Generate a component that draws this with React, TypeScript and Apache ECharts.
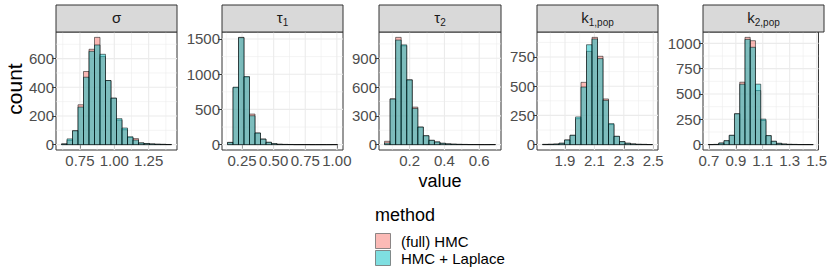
import React, { useEffect, useRef } from 'react';
import * as echarts from 'echarts';

// ---------- data ----------
const panelLabels = ['{m|σ}', '{m|τ}{s|1}', '{m|τ}{s|2}', '{m|k}{s|1,pop}', '{m|k}{s|2,pop}'];
const methods = ['(full) HMC', 'HMC + Laplace'];

const binStarts = [0.616, 0.135, 0.0554, 1.747, 0.695];
const binWidths = [0.04, 0.0435, 0.0319, 0.0374, 0.039];

const sigmaHMC = [5, 30, 97, 278, 510, 665, 748, 614, 447, 324, 171, 104, 50, 42, 12, 8, 5, 3, 2, 1];
const sigmaLap = [5, 40, 97, 262, 470, 651, 695, 630, 447, 324, 181, 116, 55, 32, 12, 8, 5, 3, 2, 1];
const tau1HMC = [33, 810, 1523, 960, 434, 165, 80, 33, 14, 6, 3, 2, 1, 1, 1, 1, 0, 1, 0, 1];
const tau1Lap = [30, 816, 1519, 967, 410, 165, 78, 33, 14, 5, 3, 2, 1, 1, 1, 0, 1, 0, 1, 1];
const tau2HMC = [35, 478, 1118, 1030, 675, 391, 183, 93, 45, 28, 14, 8, 5, 3, 2, 1, 1, 1, 0, 1];
const tau2Lap = [17, 475, 1090, 1040, 675, 377, 183, 93, 45, 28, 14, 8, 5, 3, 2, 1, 1, 0, 1, 1];
const k1HMC = [2, 3, 5, 12, 40, 80, 222, 533, 798, 918, 756, 391, 172, 71, 26, 12, 6, 3, 2, 1];
const k1Lap = [2, 3, 5, 12, 40, 80, 237, 493, 855, 904, 736, 379, 180, 71, 26, 12, 6, 3, 2, 1];
const k2HMC = [1, 2, 16, 39, 92, 305, 616, 1059, 1026, 534, 239, 89, 33, 13, 6, 3, 2, 1, 1, 1];
const k2Lap = [1, 2, 16, 39, 92, 305, 597, 1039, 961, 597, 252, 89, 33, 13, 6, 3, 2, 1, 1, 1];

const hmcData = [sigmaHMC, tau1HMC, tau2HMC, k1HMC, k2HMC];
const lapData = [sigmaLap, tau1Lap, tau2Lap, k1Lap, k2Lap];

const xMajors = [[0.75, 1.0, 1.25], [0.25, 0.5, 0.75, 1.0], [0.2, 0.4, 0.6], [1.9, 2.1, 2.3, 2.5], [0.7, 0.9, 1.1, 1.3, 1.5]];
const xMinors = [[0.625, 0.875, 1.125, 1.375], [0.125, 0.375, 0.625, 0.875], [0.1, 0.3, 0.5, 0.7], [1.8, 2.0, 2.2, 2.4], [0.8, 1.0, 1.2, 1.4]];
const yMajors = [[0, 200, 400, 600], [0, 500, 1000, 1500], [0, 300, 600, 900], [0, 250, 500, 750], [0, 250, 500, 750, 1000]];
const yMinors = [[100, 300, 500, 700], [250, 750, 1250], [150, 450, 750, 1050], [125, 375, 625, 875], [125, 375, 625, 875]];
const xDecimals = [2, 2, 1, 1, 1];

// ---------- styling / layout ----------
const FONT = '"Liberation Sans", Arial, Helvetica, sans-serif';
const lefts = [56, 222, 379, 537, 703];
const widths = [121, 121, 122, 121, 121];
const TOP = 32;
const HEIGHT = 118;
const STRIP_TOP = 5;
const HMC_FILL = 'rgba(248,118,109,0.5)';
const LAP_FILL = 'rgba(0,191,196,0.5)';

export default function App() {
  const ref = useRef<HTMLDivElement>(null);
  useEffect(() => {
    const chart = echarts.init(ref.current!, null, { renderer: 'svg' });
    const grids: any[] = [];
    const xAxes: any[] = [];
    const yAxes: any[] = [];
    const series: any[] = [];
    const graphics: any[] = [];

    for (let i = 0; i < 5; i++) {
      const hmc = hmcData[i];
      const lap = lapData[i];
      const start = binStarts[i];
      const w = binWidths[i];
      const n = hmc.length;
      const span = n * w;
      const xmin = start - 0.05 * span;
      const xmax = start + 1.05 * span;
      const ytop = Math.max(...hmc, ...lap);
      const ymin = -0.05 * ytop;
      const ymax = 1.05 * ytop;

      grids.push({
        left: lefts[i], top: TOP, width: widths[i], height: HEIGHT,
        show: true, borderColor: '#333333', borderWidth: 1, backgroundColor: '#ffffff', z: 0,
      });
      const dec = xDecimals[i];
      xAxes.push({
        type: 'value', gridIndex: i, min: xmin, max: xmax,
        axisLine: { show: false }, splitLine: { show: false },
        axisTick: { show: true, length: 4, lineStyle: { color: '#333333', width: 1 }, customValues: xMajors[i] },
        axisLabel: {
          customValues: xMajors[i], formatter: (v: number) => v.toFixed(dec),
          color: '#4D4D4D', fontSize: 15, margin: 3, fontFamily: FONT, hideOverlap: false,
        },
      });
      yAxes.push({
        type: 'value', gridIndex: i, min: ymin, max: ymax,
        axisLine: { show: false }, splitLine: { show: false },
        axisTick: { show: true, length: 4, lineStyle: { color: '#333333', width: 1 }, customValues: yMajors[i] },
        axisLabel: {
          customValues: yMajors[i], formatter: (v: number) => String(Math.round(v)),
          color: '#4D4D4D', fontSize: 15, margin: 2, fontFamily: FONT,
        },
      });

      const gridData: number[][] = [
        ...xMinors[i].map((v) => [v, 0, 0]),
        ...yMinors[i].map((v) => [v, 1, 0]),
        ...xMajors[i].map((v) => [v, 0, 1]),
        ...yMajors[i].map((v) => [v, 1, 1]),
      ];
      series.push({
        type: 'custom', xAxisIndex: i, yAxisIndex: i, z: 1, silent: true,
        data: gridData, encode: { x: 0, y: 1 },
        renderItem: (_p: any, api: any) => {
          const v = api.value(0);
          const orient = api.value(1);
          const major = api.value(2);
          let a, b;
          if (orient === 0) { a = api.coord([v, ymin]); b = api.coord([v, ymax]); }
          else { a = api.coord([xmin, v]); b = api.coord([xmax, v]); }
          return {
            type: 'line',
            shape: { x1: a[0], y1: a[1], x2: b[0], y2: b[1] },
            style: { stroke: '#EBEBEB', lineWidth: major ? 1.1 : 0.55 },
          };
        },
      });

      const makeBars = (counts: number[], fill: string, name: string) => ({
        type: 'custom', name, xAxisIndex: i, yAxisIndex: i, z: 2, silent: true,
        data: counts.map((c, k) => [start + k * w, start + (k + 1) * w, c]),
        encode: { x: [0, 1], y: 2 },
        renderItem: (_p: any, api: any) => {
          const p0 = api.coord([api.value(0), 0]);
          const p1 = api.coord([api.value(1), api.value(2)]);
          return {
            type: 'rect',
            shape: { x: p0[0], y: p1[1], width: p1[0] - p0[0], height: p0[1] - p1[1] },
            style: { fill, stroke: 'rgba(0,0,0,0.85)', lineWidth: 0.6 },
          };
        },
      });
      series.push(makeBars(hmc, HMC_FILL, methods[0]));
      series.push(makeBars(lap, LAP_FILL, methods[1]));

      graphics.push({
        type: 'rect', z: 5,
        shape: { x: lefts[i], y: STRIP_TOP, width: widths[i], height: TOP - STRIP_TOP },
        style: { fill: '#D9D9D9', stroke: '#333333', lineWidth: 1 },
      });
      graphics.push({
        type: 'text', z: 6,
        x: lefts[i] + widths[i] / 2, y: 18.5,
        style: {
          text: panelLabels[i], align: 'center', verticalAlign: 'middle', fontFamily: FONT,
          rich: {
            m: { fontSize: 15, fill: '#1A1A1A', fontFamily: FONT, verticalAlign: 'bottom', padding: [0, 0, 3, 0] },
            s: { fontSize: 10, fill: '#1A1A1A', fontFamily: FONT, verticalAlign: 'bottom' },
          },
        },
      });
    }

    // axis titles
    graphics.push({
      type: 'text', x: 14, y: 89, rotation: Math.PI / 2,
      style: { text: 'count', fontSize: 21, fontFamily: FONT, fill: '#000', align: 'center', verticalAlign: 'middle' },
    });
    graphics.push({
      type: 'text', x: 440, y: 181,
      style: { text: 'value', fontSize: 18, fontFamily: FONT, fill: '#000', align: 'center', verticalAlign: 'middle' },
    });
    // legend
    graphics.push({
      type: 'text', x: 375, y: 215,
      style: { text: 'method', fontSize: 18, fontFamily: FONT, fill: '#000', align: 'left', verticalAlign: 'middle' },
    });
    const keyFills = [HMC_FILL, LAP_FILL];
    const keyY = [233.5, 250.5];
    for (let k = 0; k < 2; k++) {
      graphics.push({
        type: 'rect', shape: { x: 375.5, y: keyY[k], width: 15, height: 15 },
        style: { fill: keyFills[k], stroke: '#6E6E6E', lineWidth: 0.8 },
      });
      graphics.push({
        type: 'text', x: 401, y: keyY[k] + 8,
        style: { text: methods[k], fontSize: 15, fontFamily: FONT, fill: '#000', align: 'left', verticalAlign: 'middle' },
      });
    }

    chart.setOption({
      animation: false,
      backgroundColor: '#ffffff',
      textStyle: { fontFamily: FONT },
      grid: grids,
      xAxis: xAxes,
      yAxis: yAxes,
      series,
      graphic: { elements: graphics },
    });
    return () => chart.dispose();
  }, []);
  return <div ref={ref} style={{ position: 'absolute', left: 0, top: 0, width: 830, height: 277 }} />;
}
